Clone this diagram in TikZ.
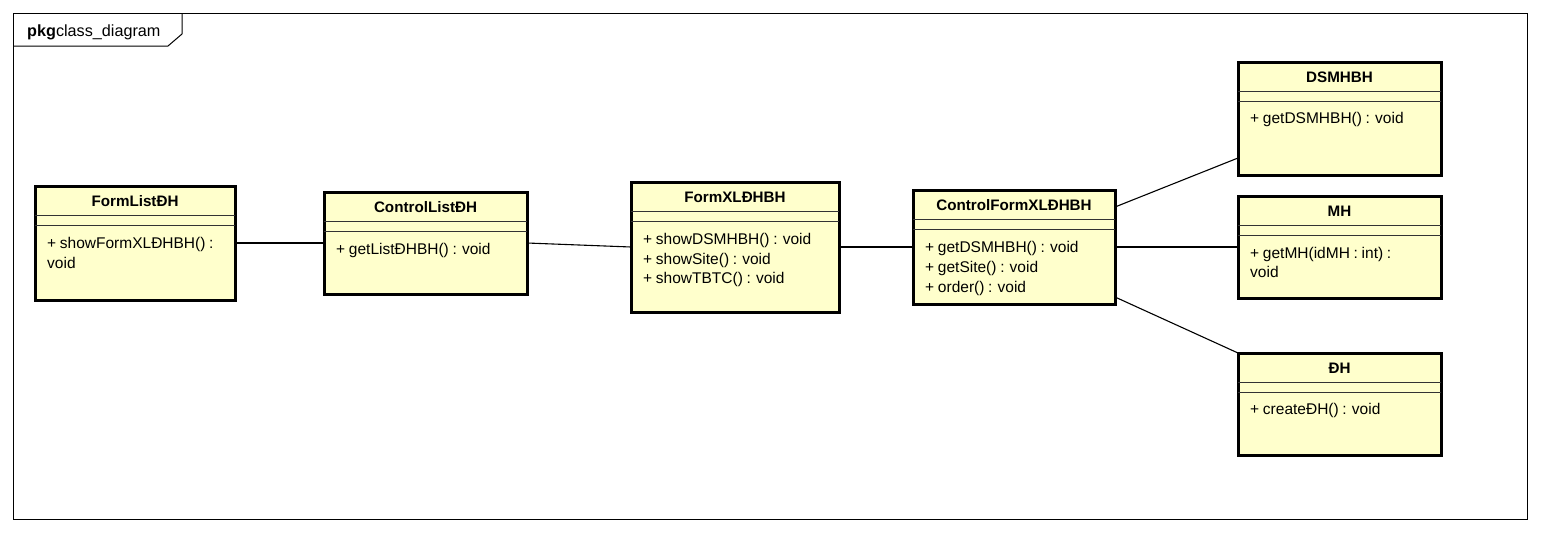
\documentclass[tikz,border=0pt]{standalone}
\usepackage{fontspec}
\setmainfont{Liberation Sans}
\usetikzlibrary{calc}
\definecolor{classfill}{RGB}{255,255,204}
\newcommand\opfont{\fontsize{15.5}{18}\selectfont\fontdimen2\font=0.24em\relax}
\tikzset{
  classbox/.style={draw=black, line width=3pt, fill=classfill, inner sep=0pt, outer sep=0pt, anchor=north west},
  sepline/.style={draw=black!80, line width=0.9pt},
  classtitle/.style={font=\fontsize{15.2}{18}\selectfont\bfseries, inner sep=0pt},
  classop/.style={font=\opfont, inner sep=0pt, anchor=base west},
  assoc/.style={draw=black, line width=1.1pt},
  pkgframe/.style={draw=black, line width=1pt},
}
\newcommand\umlclass[6]{%
  \node[classbox, minimum width=#4pt, minimum height=#5pt] (#1) at (#2,#3) {};
  \draw[sepline] ($(#1.north west)+(0,29)$) -- ($(#1.north east)+(0,29)$);
  \draw[sepline] ($(#1.north west)+(0,39)$) -- ($(#1.north east)+(0,39)$);
  \node[classtitle] (#1-title) at ($(#1.north)+(0,15)$) {#6};
}
\newcommand\umlop[4]{%
  \node[classop] (#1-op#2) at ($(#1.north west)+(12,#3)$) {#4};
}
\begin{document}
\begin{tikzpicture}[x=1pt,y=-1pt]
\useasboundingbox[fill=white] (0,0) rectangle (1541,533);
% package frame
\draw[pkgframe] (13,13) rectangle (1527,519);
\draw[pkgframe] (13,46) -- (168,46) -- (182,34) -- (182,13);
\node[inner sep=0pt, anchor=base west, font=\fontsize{16.2}{18}\selectfont] (pkglabel) at (27,36) {\textbf{pkg}class\_diagram};
% classes
\umlclass{fl}{35}{186}{200}{114}{FormListĐH}
\umlop{fl}{1}{62}{+ showFormXLĐHBH() :}
\umlop{fl}{2}{82}{void}
\umlclass{cl}{324}{192}{203}{102}{ControlListĐH}
\umlop{cl}{1}{62}{+ getListĐHBH() : void}
\umlclass{fx}{631}{182}{208}{130}{FormXLĐHBH}
\umlop{fx}{1}{62}{+ showDSMHBH() : void}
\umlop{fx}{2}{82}{+ showSite() : void}
\umlop{fx}{3}{101}{+ showTBTC() : void}
\umlclass{cf}{913}{190}{202}{114}{ControlFormXLĐHBH}
\umlop{cf}{1}{62}{+ getDSMHBH() : void}
\umlop{cf}{2}{82}{+ getSite() : void}
\umlop{cf}{3}{102}{+ order() : void}
\umlclass{ds}{1238}{62}{203}{113}{DSMHBH}
\umlop{ds}{1}{61}{+ getDSMHBH() : void}
\umlclass{mh}{1238}{196}{203}{102}{MH}
\umlop{mh}{1}{62}{+ getMH(idMH : int) :}
\umlop{mh}{2}{81}{void}
\umlclass{dh}{1238}{353}{203}{102}{ĐH}
\umlop{dh}{1}{61}{+ createĐH() : void}
% associations
\draw[assoc] (fl.east) -- (cl.west);
\draw[assoc] (cl.east) -- (fx.west);
\draw[assoc] (fx.east) -- (cf.west);
\draw[assoc] (cf.east) -- (mh.west);
\draw[assoc] ($(cf.north east)+(0,17)$) -- ($(ds.south west)+(0,-17)$);
\draw[assoc] ($(cf.south east)+(0,-7)$) -- (dh.north west);
\end{tikzpicture}
\end{document}
